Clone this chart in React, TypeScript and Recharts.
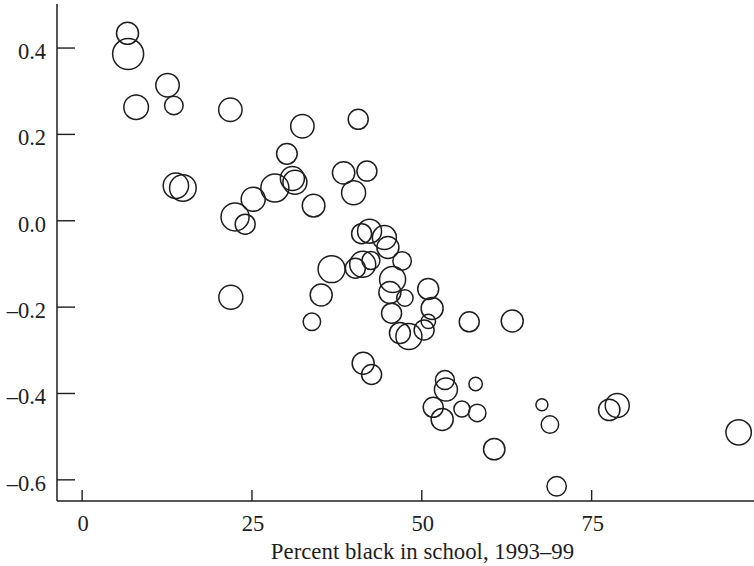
import { ScatterChart, Scatter, XAxis, YAxis, ZAxis } from "recharts";

// percent black in school (x), effect (y), weight (bubble area)
const pctBlack = [
  6.68, 6.77, 7.95, 12.57, 13.5, 21.82, 32.42, 40.64, 30.14, 13.8,
  14.83, 22.51, 24.0, 25.18, 28.37, 30.95, 31.32, 34.07, 38.49, 41.92,
  39.96, 41.14, 42.31, 44.49, 45.01, 47.1, 36.72, 40.22, 41.3, 42.51,
  45.7, 45.3, 47.51, 50.94, 51.52, 21.89, 35.19, 33.82, 45.55, 46.78,
  48.1, 50.34, 50.96, 56.98, 63.31, 41.37, 42.61, 53.4, 53.55, 57.92,
  51.68, 53.0, 55.9, 58.16, 60.66, 67.68, 68.86, 69.85, 77.59, 78.77,
  96.64,
];
const effect = [
  0.434, 0.386, 0.263, 0.314, 0.267, 0.257, 0.219, 0.235, 0.155, 0.081,
  0.076, 0.009, -0.008, 0.05, 0.076, 0.098, 0.089, 0.035, 0.111, 0.115,
  0.065, -0.03, -0.024, -0.039, -0.062, -0.093, -0.112, -0.11, -0.101, -0.092,
  -0.136, -0.166, -0.179, -0.158, -0.203, -0.177, -0.172, -0.234, -0.214, -0.26,
  -0.268, -0.253, -0.233, -0.234, -0.232, -0.33, -0.356, -0.369, -0.391, -0.378,
  -0.432, -0.46, -0.436, -0.445, -0.529, -0.426, -0.472, -0.615, -0.438, -0.428,
  -0.49,
];
const weight = [
  121, 240, 151, 137, 86, 137, 137, 100, 106, 161,
  177, 196, 100, 144, 196, 144, 144, 128, 125, 100,
  144, 100, 144, 144, 121, 85, 182, 100, 169, 81,
  169, 121, 67, 110, 121, 144, 121, 76, 100, 110,
  169, 100, 52, 100, 121, 121, 100, 90, 132, 45,
  100, 121, 64, 76, 114, 36, 76, 94, 114, 144,
  161,
];

const xTicks = [0, 25, 50, 75];
const yTicks = [0.4, 0.2, 0, -0.2, -0.4, -0.6];
const xTitle = "Percent black in school, 1993\u201399";

const X_DOMAIN = [-3.7, 98.9];
const Y_DOMAIN = [-0.649, 0.502];

const data = pctBlack.map((x, i) => ({ x, y: effect[i], z: weight[i] }));

const FONT = '"Liberation Serif", "Times New Roman", serif';
const INK = "#1e1e1e";

const fmtY = (v: number) => (v < 0 ? "\u2013" + Math.abs(v).toFixed(1) : v.toFixed(1));

function YTick(props: any) {
  const { x, y, payload } = props;
  return (
    <g>
      <line x1={x} x2={x + 18} y1={y} y2={y} stroke={INK} strokeWidth={1.4} />
      <text x={x - 11} y={y + 11} textAnchor="end" fontFamily={FONT} fontSize={22.5} fill={INK}>
        {fmtY(payload.value)}
      </text>
    </g>
  );
}

function XTick(props: any) {
  const { x, y, payload } = props;
  return (
    <g>
      <line x1={x} x2={x} y1={y - 11} y2={y} stroke={INK} strokeWidth={1.4} />
      <text x={x + 1} y={y + 30} textAnchor="middle" fontFamily={FONT} fontSize={22.5} fill={INK}>
        {payload.value}
      </text>
    </g>
  );
}

function XTitle(props: any) {
  const vb = props.viewBox || {};
  return (
    <text
      x={vb.x + vb.width / 2 + 17}
      y={vb.y + 58}
      textAnchor="middle"
      fontFamily={FONT}
      fontSize={22.8}
      fill={INK}
    >
      {xTitle}
    </text>
  );
}

export default function App() {
  return (
    <div style={{ position: "absolute", left: 0, top: 0, background: "#fff" }}>
      <ScatterChart width={754} height={566} margin={{ top: 4, right: 0, bottom: 0, left: 0 }}>
        <XAxis
          xAxisId="top"
          orientation="top"
          type="number"
          dataKey="x"
          domain={X_DOMAIN}
          allowDataOverflow
          height={0}
          tick={false}
          tickLine={false}
          axisLine={{ stroke: "#555", strokeWidth: 2 }}
        />
        <XAxis
          type="number"
          dataKey="x"
          domain={X_DOMAIN}
          allowDataOverflow
          ticks={xTicks}
          height={65}
          tickSize={0}
          tickMargin={0}
          tickLine={false}
          tick={<XTick />}
          axisLine={{ stroke: INK, strokeWidth: 1.5 }}
          label={<XTitle />}
        />
        <YAxis
          type="number"
          dataKey="y"
          domain={Y_DOMAIN}
          allowDataOverflow
          ticks={yTicks}
          width={57}
          tickSize={0}
          tickMargin={0}
          tickLine={false}
          tick={<YTick />}
          axisLine={{ stroke: INK, strokeWidth: 1.5 }}
        />
        <ZAxis type="number" dataKey="z" domain={[0, 256]} range={[0, 256 * Math.PI]} />
        <Scatter
          data={data}
          fill="none"
          stroke={INK}
          strokeWidth={1.5}
          isAnimationActive={false}
        />
      </ScatterChart>
    </div>
  );
}
